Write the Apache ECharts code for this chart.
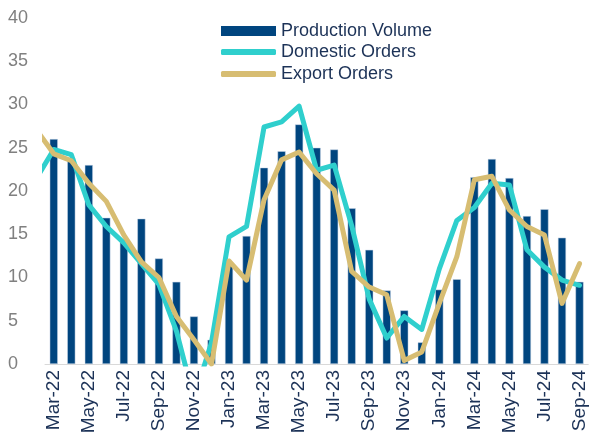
<!DOCTYPE html>
<html>
<head>
<meta charset="utf-8">
<script src="https://cdn.jsdelivr.net/npm/echarts@6/dist/echarts.min.js"></script>
<style>
  html, body { margin: 0; padding: 0; background: #fff; }
  #main { width: 589px; height: 437px; }
</style>
</head>
<body>
<div id="main"></div>
<script>
// first month (Feb-22) sits just left of the plot, only its line stubs show
var months = ['Feb-22','Mar-22','Apr-22','May-22','Jun-22','Jul-22','Aug-22','Sep-22','Oct-22','Nov-22','Dec-22',
  'Jan-23','Feb-23','Mar-23','Apr-23','May-23','Jun-23','Jul-23','Aug-23','Sep-23','Oct-23','Nov-23','Dec-23',
  'Jan-24','Feb-24','Mar-24','Apr-24','May-24','Jun-24','Jul-24','Aug-24','Sep-24'];
var production = [null, 26.0, 23.8, 23.0, 16.9, 14.4, 16.8, 12.2, 9.5, 5.5, 2.8,
  11.7, 14.8, 22.7, 24.6, 27.7, 25.0, 24.8, 18.0, 13.2, 8.5, 6.2, 2.5,
  8.6, 9.8, 21.6, 23.7, 21.5, 17.1, 17.9, 14.6, 9.5];
var domestic = [21.4, 24.8, 24.2, 18.4, 15.9, 14.0, 11.6, 9.2, 3.8, -4.0, 2.5,
  14.7, 15.9, 27.4, 28.0, 29.8, 22.4, 23.0, 16.0, 7.5, 3.0, 5.5, 4.0,
  11.0, 16.6, 18.1, 20.9, 20.7, 13.2, 11.2, 9.7, 9.1];
var exportOrders = [27.1, 24.3, 23.5, 20.9, 18.8, 14.9, 11.8, 10.0, 5.5, 2.8, 0,
  11.9, 9.7, 19.0, 23.6, 24.5, 22.0, 20.1, 10.7, 8.9, 8.0, 0.4, 1.4,
  7.0, 12.4, 21.3, 21.7, 17.8, 15.9, 14.9, 7.0, 11.6];

var navy = '#00457f', cyan = '#2fcfcd', gold = '#d7bd72';

// one legend per row so the bar key and the line keys can have their own heights
function legendRow(name, top, h) {
  return {
    left: 216,
    top: top,
    itemWidth: 55,
    itemHeight: h,
    icon: h > 8 ? 'rect' : 'roundRect',
    itemStyle: { borderWidth: 0 },
    textStyle: { fontSize: 18, color: '#1c3257' },
    data: [name]
  };
}

var chart = echarts.init(document.getElementById('main'));
chart.setOption({
  animation: false,
  textStyle: { fontFamily: 'Liberation Sans, Arial, sans-serif' },
  legend: [
    legendRow('Production Volume', 17, 10),
    legendRow('Domestic Orders', 38, 6),
    legendRow('Export Orders', 60, 6)
  ],
  grid: { left: 45, right: 0, top: 18, bottom: 73 },
  xAxis: {
    type: 'category',
    data: months,
    min: 1,
    max: 31,
    axisLine: { lineStyle: { color: '#d9d9d9', width: 1 } },
    axisTick: { length: 5, lineStyle: { color: '#d9d9d9' }, interval: function (i) { return i % 2 === 1; } },
    axisLabel: {
      rotate: 90,
      interval: function (i) { return i % 2 === 1; },
      fontSize: 19,
      color: '#1c3257',
      margin: 6
    }
  },
  yAxis: {
    type: 'value',
    min: 0,
    max: 40,
    interval: 5,
    splitLine: { show: false },
    axisLine: { show: false },
    axisTick: { show: false },
    axisLabel: { fontSize: 18, color: '#808080', align: 'left', margin: 37 }
  },
  series: [
    {
      name: 'Production Volume',
      type: 'bar',
      data: production,
      barWidth: '46%',
      itemStyle: { color: navy, borderColor: '#c9d6e6', borderWidth: 0.5 }
    },
    {
      name: 'Domestic Orders',
      type: 'line',
      data: domestic,
      symbol: 'none',
      lineStyle: { color: cyan, width: 5, cap: 'round', join: 'round' },
      itemStyle: { color: cyan }
    },
    {
      name: 'Export Orders',
      type: 'line',
      data: exportOrders,
      symbol: 'none',
      lineStyle: { color: gold, width: 5, cap: 'round', join: 'round' },
      itemStyle: { color: gold }
    }
  ]
});
</script>
</body>
</html>
